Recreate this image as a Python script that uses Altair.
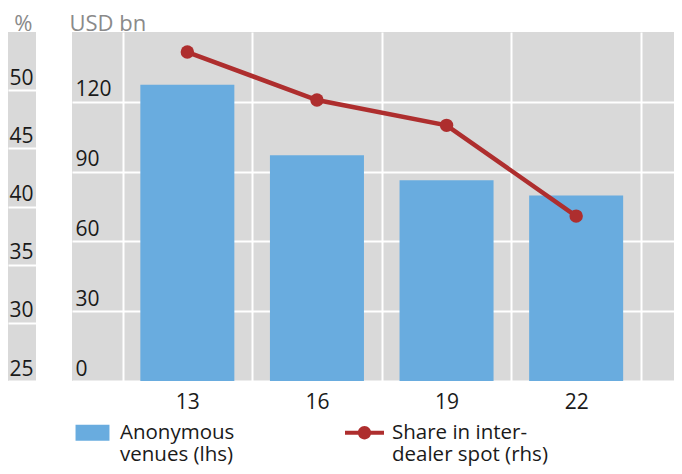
import altair as alt
import pandas as pd

# ---- data ----
years = [13, 16, 19, 22]
venues = [127.3, 97.0, 86.3, 79.7]          # USD bn (lhs)
share = [18.85, 16.1, 14.65, 9.45]          # % (rhs)
series = ["Anonymous|venues (lhs)", "Share in inter-|dealer spot (rhs)"]
left_ticks = [0, 30, 60, 90, 120]
right_ticks = [0, 4, 8, 12, 16]
side_ticks = [25, 30, 35, 40, 45, 50]       # cut-off neighbouring panel

BLUE = "#69acdf"
RED = "#ae2e2e"
BG = "#d9d9d9"
TITLE_GREY = "#8a8a8a"
TXT = "#1a1a1a"
FONT = "Open Sans"

bar_df = pd.DataFrame({"year": years, "venues": venues, "series": series[0]})
line_df = pd.DataFrame({"year": years, "share": share, "series": series[1]})
side = pd.DataFrame({"v": side_ticks})

x_enc = alt.X(
    "year:Q",
    scale=alt.Scale(domain=[10.33, 24.45], nice=False, zero=False, padding=0),
    axis=alt.Axis(
        values=[11.5, 13, 14.5, 16, 17.5, 19, 20.5, 22, 23.5],
        title=None,
        labelExpr="datum.value % 3 == 1 ? datum.label : ''",
        gridOpacity={"condition": {"test": "datum.value % 3 == 1", "value": 0}, "value": 1},
        labelBaseline="alphabetic",
        labelPadding=27,
    ),
)

split_expr = ("[slice(datum.label, 0, indexof(datum.label, '|')), "
              "slice(datum.label, indexof(datum.label, '|') + 1)]")
rect_path = "M -0.87 -0.41 L 0.87 -0.41 L 0.87 0.41 L -0.87 0.41 Z"
line_path = ("M -1 -0.1 L 1 -0.1 L 1 0.1 L -1 0.1 Z "
             "M 0.34 0 A 0.34 0.34 0 1 1 -0.34 0 A 0.34 0.34 0 1 1 0.34 0 Z")

legend = alt.Legend(
    title=None,
    orient="none",
    direction="horizontal",
    legendX=65,
    legendY=381,
    labelExpr=split_expr,
    labelFont=FONT,
    labelFontSize=20.5,
    labelColor=TXT,
    labelBaseline="middle",
    labelOffset=8,
    columnPadding=110,
    symbolSize=1521,
    symbolType=alt.ExprRef(f"datum.value == '{series[0]}' ? '{rect_path}' : '{line_path}'"),
    symbolFillColor=alt.ExprRef("scale('color', datum.value)"),
    symbolStrokeWidth=0,
    symbolOpacity=1,
)

color_enc = alt.Color("series:N", scale=alt.Scale(domain=series, range=[BLUE, RED]), legend=legend)

bars = alt.Chart(bar_df).mark_bar(size=94).encode(
    x=x_enc,
    y=alt.Y(
        "venues:Q",
        scale=alt.Scale(domain=[0, 150], nice=False),
        axis=alt.Axis(
            orient="left",
            values=left_ticks,
            title="USD bn",
            titleAngle=0,
            titleAlign="left",
            titleBaseline="alphabetic",
            titleX=-3,
            titleY=-2,
            labelAlign="left",
            labelPadding=-3,
            labelBaseline="alphabetic",
            labelOffset=-6,
        ),
    ),
    color=color_enc,
)

line = alt.Chart(line_df).mark_line(strokeWidth=4.5).encode(
    x=x_enc,
    y=alt.Y(
        "share:Q",
        scale=alt.Scale(domain=[0, 20], nice=False),
        axis=alt.Axis(
            orient="right",
            values=right_ticks,
            title="%",
            titleAngle=0,
            titleAlign="right",
            titleBaseline="alphabetic",
            titleX=-5,
            titleY=-2,
            labelAlign="right",
            labelPadding=-5,
            labelBaseline="alphabetic",
            labelOffset=-6,
            grid=False,
        ),
    ),
    color=color_enc,
)

points = alt.Chart(line_df).mark_point(filled=True, size=180, opacity=1).encode(
    x=x_enc,
    y=alt.Y("share:Q", scale=alt.Scale(domain=[0, 20], nice=False), axis=None),
    color=color_enc,
)

main = alt.layer(bars, alt.layer(line, points)).resolve_scale(y="independent").properties(
    width=610, height=349
)

left = alt.Chart(side).mark_point(opacity=0).encode(
    y=alt.Y(
        "v:Q",
        scale=alt.Scale(domain=[25, 55], nice=False, zero=False),
        axis=alt.Axis(
            orient="right",
            values=side_ticks,
            title="%",
            titleAngle=0,
            titleAlign="right",
            titleBaseline="alphabetic",
            titleX=-4,
            titleY=-2,
            labelAlign="right",
            labelPadding=-3,
            labelBaseline="alphabetic",
            labelOffset=-6,
        ),
    )
).properties(width=28, height=349)

chart = (
    alt.hconcat(left, main, spacing=36, bounds="flush")
    .properties(
        autosize=alt.AutoSizeParams(type="none"),
        padding={"left": 0, "top": 24, "right": 666, "bottom": 85},
    )
    .configure_view(fill=BG, stroke=None)
    .configure_axis(
        labelFont=FONT,
        labelFontSize=21,
        labelColor=TXT,
        titleFont=FONT,
        titleFontSize=22,
        titleFontWeight="normal",
        titleColor=TITLE_GREY,
        grid=True,
        gridColor="white",
        gridWidth=2,
        domain=False,
        ticks=False,
        tickSize=0,
    )
)

chart.save("out.html", embed_options={"renderer": "svg", "actions": False})
